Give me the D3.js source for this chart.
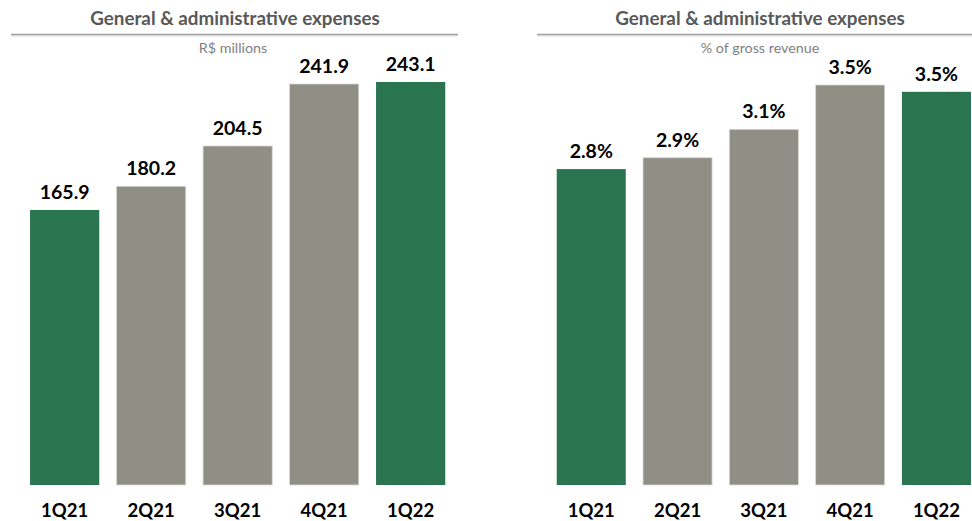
<!DOCTYPE html>
<html><head><meta charset="utf-8">
<script src="https://cdn.jsdelivr.net/npm/d3@7"></script>
<style>body{margin:0;background:#fff}svg{display:block}</style>
</head><body>
<svg id="c" width="972" height="521"></svg>
<script>
const categories = ["1Q21","2Q21","3Q21","4Q21","1Q22"];
const expensesValues = [165.9, 180.2, 204.5, 241.9, 243.1];
const revenueShareValues = [2.78, 2.88, 3.13, 3.52, 3.46];
const highlight = [true, false, false, false, true];
const titleText = "General & administrative expenses";
const leftSubtitle = "R$ millions";
const rightSubtitle = "% of gross revenue";

const GREEN = "#2a744f", GRAY = "#8f8f86";
const svg = d3.select("#c");
const FONT = "Lato, 'Open Sans', sans-serif";

function drawChart(opts) {
  const g = svg.append("g");
  const x = d3.scaleBand().domain(categories).range([opts.x0, opts.x1]).paddingInner(0.2).paddingOuter(0.1);
  const y = d3.scaleLinear().domain([0, opts.max]).range([485, opts.topY]);
  g.append("text").attr("x", opts.titleX).attr("y", 25).attr("text-anchor","middle")
    .attr("font-family", FONT).attr("font-weight","bold").attr("font-size","18.8px").attr("fill","#595959")
    .text(titleText);
  g.append("line").attr("x1", opts.lineX0).attr("x2", opts.lineX1).attr("y1", 35.5).attr("y2", 35.5)
    .attr("stroke","#e6e6e6").attr("stroke-width",2);
  g.append("line").attr("x1", opts.lineX0).attr("x2", opts.lineX1).attr("y1", 34.5).attr("y2", 34.5)
    .attr("stroke","#a3a3a3").attr("stroke-width",1.5);
  g.append("text").attr("x", opts.subX).attr("y", 53).attr("text-anchor","middle")
    .attr("font-family", FONT).attr("font-size","14.3px").attr("fill","#7f7f7f")
    .text(opts.subtitle);
  const data = categories.map((c,i)=>({c, v: opts.values[i], h: highlight[i]}));
  g.selectAll("rect.bar").data(data).join("rect").attr("class","bar")
    .attr("x", d=>x(d.c)).attr("width", x.bandwidth())
    .attr("y", d=>y(d.v)).attr("height", d=>y(0)-y(d.v))
    .attr("fill", d=>d.h?GREEN:GRAY)
    .attr("stroke", d=>d.h?"none":"#d9d9d3").attr("stroke-width",0.8);
  g.selectAll("text.val").data(data).join("text").attr("class","val")
    .attr("x", d=>x(d.c)+x.bandwidth()/2).attr("y", d=>y(d.v)-11)
    .attr("text-anchor","middle").attr("font-family",FONT).attr("font-weight","bold")
    .attr("font-size","19.5px").attr("fill","#000")
    .text(d=>opts.fmt(d.v));
  const axis = d3.axisBottom(x).tickSize(0).tickPadding(0);
  const ag = g.append("g").attr("transform","translate(0,500)").call(axis);
  ag.select(".domain").remove();
  ag.selectAll("text").attr("font-family",FONT).attr("font-weight","bold").attr("font-size","18.5px")
    .attr("fill","#000").attr("dy","0.9em");
}

drawChart({x0: 21.4, x1: 453.9, max: 243.1, topY: 82, values: expensesValues,
  titleX: 235, subX: 233, lineX0: 11, lineX1: 458, subtitle: leftSubtitle,
  fmt: v=>v.toFixed(1)});
drawChart({x0: 548.1, x1: 979.6, max: 3.52, topY: 85, values: revenueShareValues,
  titleX: 760, subX: 760, lineX0: 537, lineX1: 972, subtitle: rightSubtitle,
  fmt: v=>v.toFixed(1)+"%"});
</script>
</body></html>
